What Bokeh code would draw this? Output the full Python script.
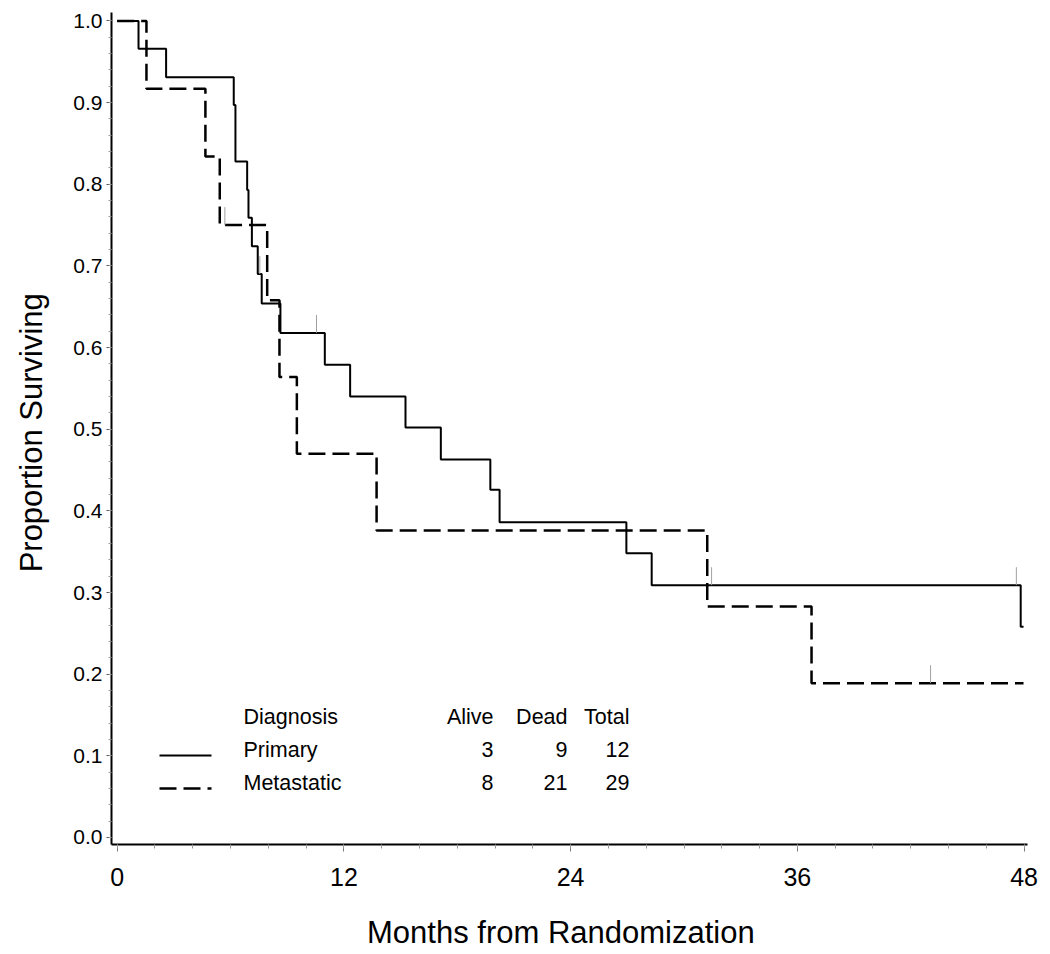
from bokeh.plotting import figure
from bokeh.models import (Range1d, SingleIntervalTicker, NumeralTickFormatter, Label,
                          Arrow, ColumnDataSource)
from bokeh.embed import file_html
from bokeh.resources import INLINE

# ---------------- data ----------------
primary_times = [0, 1.13, 2.59, 6.17, 6.26, 6.88, 6.95, 7.13, 7.44, 7.65, 8.64,
                 10.99, 12.33, 15.26, 17.13, 19.75, 20.24, 26.95, 28.29, 47.82]
primary_surv = [1.0, 0.966, 0.931, 0.897, 0.828, 0.793, 0.759, 0.724, 0.690, 0.654,
                0.618, 0.579, 0.540, 0.502, 0.463, 0.426, 0.386, 0.348, 0.309, 0.258]
primary_end = 47.97
primary_censor_times = [7.55, 10.55, 31.46, 47.59]
primary_censor_surv = [0.690, 0.618, 0.309, 0.309]

meta_times = [0, 1.55, 4.67, 5.43, 7.94, 8.59, 9.51, 13.73, 31.23, 36.75]
meta_surv = [1.0, 0.917, 0.834, 0.750, 0.658, 0.564, 0.470, 0.376, 0.283, 0.189]
meta_end = 47.97
meta_censor_times = [5.70, 43.05]
meta_censor_surv = [0.750, 0.189]

header = ["Diagnosis", "Alive", "Dead", "Total"]
groups = ["Primary", "Metastatic"]
alive = [3, 8]
dead = [9, 21]
total = [12, 29]

x_ticks_interval = 12
y_ticks_interval = 0.1

FONT = "Liberation Sans"
CENSOR_H = 0.022

# ---------------- figure ----------------
p = figure(width=1050, height=954, output_backend="svg", toolbar_location=None,
           x_range=Range1d(-0.30, 48.18), y_range=Range1d(-0.0086, 1.0104),
           min_border_left=111, min_border_right=23, min_border_top=12,
           min_border_bottom=110)
p.outline_line_color = None
p.grid.visible = False
p.background_fill_color = "white"
p.border_fill_color = "white"

# curves
def step_source(times, surv, end):
    xs = list(times) + [end]
    ys = list(surv) + [surv[-1]]
    return ColumnDataSource(dict(x=xs, y=ys))

p.step("x", "y", source=step_source(primary_times, primary_surv, primary_end),
       mode="after", line_color="black", line_width=2)
p.step("x", "y", source=step_source(meta_times, meta_surv, meta_end),
       mode="after", line_color="black", line_width=2.5, line_dash="17 7")

# censor marks
cens_t = primary_censor_times + meta_censor_times
cens_s = primary_censor_surv + meta_censor_surv
cs = ColumnDataSource(dict(x=cens_t, y0=cens_s, y1=[s + CENSOR_H for s in cens_s]))
p.segment(x0="x", y0="y0", x1="x", y1="y1", source=cs, line_color="#a0a0a0", line_width=1)

# axes
p.xaxis.ticker = SingleIntervalTicker(interval=x_ticks_interval, num_minor_ticks=6)
p.yaxis.ticker = SingleIntervalTicker(interval=y_ticks_interval, num_minor_ticks=5)
p.yaxis.formatter = NumeralTickFormatter(format="0.0")

for ax in (p.xaxis[0], p.yaxis[0]):
    ax.axis_line_color = "black"
    ax.axis_line_width = 2
    ax.major_tick_in = 0
    ax.minor_tick_in = 0
    ax.major_label_text_font = FONT
    ax.major_label_text_color = "black"
    ax.axis_label_text_font = FONT
    ax.axis_label_text_font_style = "normal"
    ax.axis_label_text_color = "black"
    ax.axis_label_text_font_size = "31px"
    ax.minor_tick_line_color = "#999999"

p.xaxis.axis_label = "Months  from  Randomization"
p.xaxis.major_tick_out = 7
p.xaxis.minor_tick_out = 4
p.xaxis.major_tick_line_color = "#777777"
p.xaxis.major_label_text_font_size = "25px"
p.xaxis.major_label_standoff = 16
p.xaxis.axis_label_standoff = 26

p.yaxis.axis_label = "Proportion  Surviving"
p.yaxis.major_tick_out = 5
p.yaxis.minor_tick_out = 3
p.yaxis.major_tick_line_color = "#555555"
p.yaxis.major_label_text_font_size = "21px"
p.yaxis.major_label_standoff = 4
p.yaxis.axis_label_standoff = 21

# legend table (screen units relative to the plot frame)
LEG_FS = "21.5px"
hdr_y = 128
row_y = [95, 62]
line_y = [89, 56]
col_x = {"Diagnosis": 132, "Alive": 382, "Dead": 456, "Total": 518}

def add_label(text, x, y, align="left"):
    p.add_layout(Label(x=x, y=y, x_units="screen", y_units="screen", text=text,
                       text_font=FONT, text_font_size=LEG_FS, text_color="black",
                       text_align=align, text_baseline="alphabetic"))

add_label(header[0], col_x["Diagnosis"], hdr_y)
for h in header[1:]:
    add_label(h, col_x[h], hdr_y, "right")

for i, g in enumerate(groups):
    add_label(g, col_x["Diagnosis"], row_y[i])
    add_label(str(alive[i]), col_x["Alive"], row_y[i], "right")
    add_label(str(dead[i]), col_x["Dead"], row_y[i], "right")
    add_label(str(total[i]), col_x["Total"], row_y[i], "right")

p.add_layout(Arrow(end=None, x_start=48, y_start=line_y[0], x_end=100, y_end=line_y[0],
                   start_units="screen", end_units="screen",
                   line_color="black", line_width=2))
p.add_layout(Arrow(end=None, x_start=48, y_start=line_y[1], x_end=100, y_end=line_y[1],
                   start_units="screen", end_units="screen",
                   line_color="black", line_width=2.5, line_dash="17 7"))

open("out.html", "w").write(file_html(p, INLINE))
